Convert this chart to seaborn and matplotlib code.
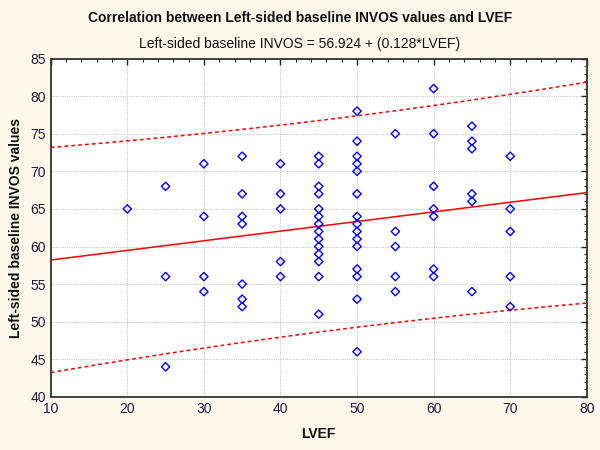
import numpy as np
import pandas as pd
import matplotlib
matplotlib.use("Agg")
import matplotlib.pyplot as plt
import seaborn as sns
from matplotlib.ticker import MultipleLocator

# LVEF groups and the left-sided baseline INVOS values read for each group
lvef_groups = [20, 25, 30, 35, 40, 45, 50, 55, 60, 65, 70]
invos_by_group = [
    [65],
    [68, 56, 44],
    [71, 64, 56, 54],
    [72, 67, 64, 63, 55, 53, 52],
    [71, 67, 65, 58, 56],
    [72, 71, 68, 67, 65, 64, 63, 62, 61, 60, 59, 58, 56, 51],
    [78, 74, 72, 71, 70, 67, 64, 63, 62, 61, 60, 57, 56, 53, 46],
    [75, 62, 60, 56, 54],
    [81, 75, 68, 65, 64, 57, 56],
    [76, 74, 73, 67, 66, 54],
    [72, 65, 62, 56, 52],
]

# regression from the chart's subtitle; residual SE estimated from the band
intercept = 56.924
slope = 0.128
resid_se = 7.0

title = "Correlation between Left-sided baseline INVOS values and LVEF"
subtitle = "Left-sided baseline INVOS = 56.924 + (0.128*LVEF)"
x_label = "LVEF"
y_label = "Left-sided baseline INVOS values"

rows = [(x, y) for x, ys in zip(lvef_groups, invos_by_group) for y in ys]
df = pd.DataFrame(rows, columns=["LVEF", "INVOS"])

# 95% prediction band
n = len(df)
xm = df["LVEF"].mean()
sxx = ((df["LVEF"] - xm) ** 2).sum()
t_val = 1.994
xs = np.linspace(10, 80, 200)
fit = intercept + slope * xs
half = t_val * resid_se * np.sqrt(1 + 1 / n + (xs - xm) ** 2 / sxx)

sns.set_style("white")
plt.rcParams["font.family"] = ["Liberation Sans", "DejaVu Sans"]

bg = "#fdf8eb"
fig = plt.figure(figsize=(6, 4.5), dpi=100, facecolor=bg)
ax = fig.add_axes([0.0845, 0.118, 0.8935, 0.752])
ax.set_facecolor("white")

ax.plot(xs, fit, color="#ff0000", lw=1.1)
ax.plot(xs, fit + half, color="#ff0000", lw=1.1, ls=(0, (2.5, 2)))
ax.plot(xs, fit - half, color="#ff0000", lw=1.1, ls=(0, (2.5, 2)))

sns.scatterplot(data=df, x="LVEF", y="INVOS", ax=ax, marker="D", s=18,
                facecolor="none", edgecolor="#0000ff", linewidth=1.0, zorder=3)

ax.set_xlim(10, 80)
ax.set_ylim(40, 85)
ax.xaxis.set_major_locator(MultipleLocator(10))
ax.xaxis.set_minor_locator(MultipleLocator(2))
ax.yaxis.set_major_locator(MultipleLocator(5))
ax.yaxis.set_minor_locator(MultipleLocator(1))
ax.tick_params(which="both", direction="in", top=True, right=True,
               colors="#222222", labelcolor="#1c1c3a", labelsize=10)
ax.tick_params(which="major", length=4, width=1)
ax.tick_params(which="minor", length=2.5, width=0.8)
ax.grid(True, which="major", color="#c8c8c8", ls=(0, (1, 1)), lw=0.8)
for sp in ax.spines.values():
    sp.set_color("#333333")
    sp.set_linewidth(1.3)

ax.set_xlabel(x_label, fontsize=10, fontweight="bold", color="#111111", labelpad=8)
ax.set_ylabel(y_label, fontsize=10, fontweight="bold", color="#111111", labelpad=5)

fig.text(0.5, 0.96, title, ha="center", va="center", fontsize=10, fontweight="bold", color="#111111")
fig.text(0.5, 0.903, subtitle, ha="center", va="center", fontsize=10, color="#111111")

fig.savefig("out.png", dpi=100, facecolor=bg)
